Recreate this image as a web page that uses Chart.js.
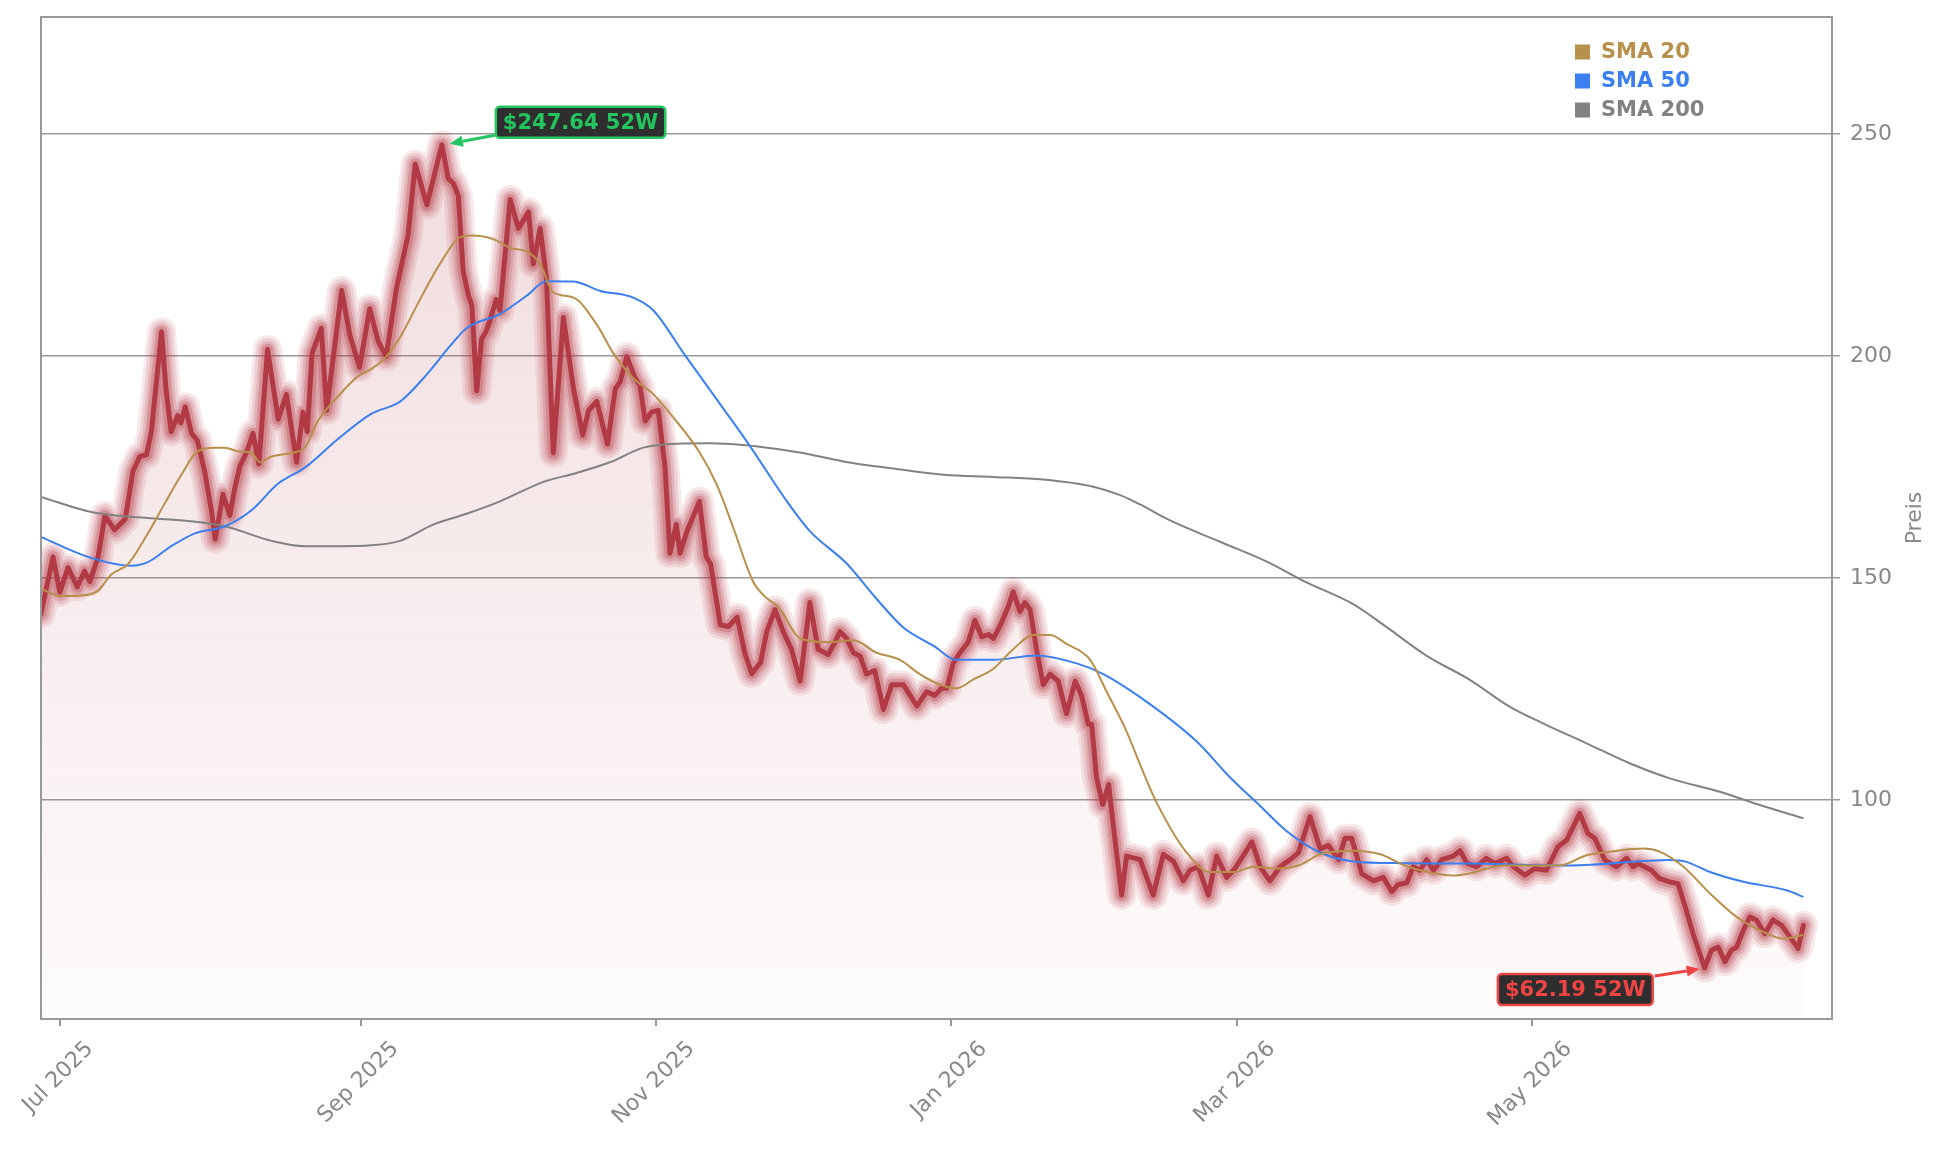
<!DOCTYPE html>
<html lang="de">
<head>
<meta charset="utf-8">
<title>Kurs 52W mit SMA</title>
<script src="https://cdn.jsdelivr.net/npm/chart.js@4.4.1/dist/chart.umd.min.js"></script>
<style>
    html, body { margin: 0; padding: 0; background: #fff; }
    #wrap { width: 1945px; height: 1153px; }
</style>
</head>
<body>
<div id="wrap"><canvas id="price-chart"></canvas></div>
<script>
// x values are days counted from 1 Jul 2025
const priceDays = [
    -4, -1.5, -0.1, 1.6, 3.5, 5.0, 6.1, 7.8, 9.2, 11.2, 13.4, 15.0, 16.4, 17.8, 18.8, 20.9, 21.9, 22.9, 24.2, 24.9,
    25.8, 27.1, 28.3, 29.8, 31.2, 32.0, 33.6, 35.0, 36.0, 37.1, 38.4, 39.8, 41.0, 42.8, 45.0, 46.7, 48.8, 50.1, 51.0, 52.0,
    53.9, 55.0, 58.1, 59.8, 61.8, 63.9, 65.6, 67.3, 69.4, 71.8, 73.3, 75.7, 78.8, 80.1, 81.2, 82.2, 83.2, 84.3, 85.0, 86.0,
    87.0, 87.9, 88.7, 90.0, 90.8, 92.9, 94.6, 96.7, 97.7, 99.1, 100.4, 101.8, 103.9, 106.0, 107.9, 109.1, 110.8, 113.0, 114.6, 115.6,
    117.0, 118.7, 119.7, 120.8, 122.1, 123.5, 124.9, 125.9, 127.2, 128.0, 129.4, 132.0, 133.4, 134.3, 136.3, 138.0, 139.8, 141.4, 142.8, 144.6,
    145.9, 147.6, 149.3, 151.0, 152.8, 154.8, 156.5, 158.6, 160.0, 161.0, 162.4, 163.8, 165.2, 166.5, 168.2, 170.0, 171.7, 174.1, 176.9, 178.9,
    180.6, 182.0, 183.1, 184.4, 185.8, 187.5, 188.9, 190.3, 191.7, 192.7, 194.1, 195.8, 196.8, 198.2, 199.2, 200.3, 201.6, 203.0, 204.4, 206.1,
    207.8, 209.6, 210.9, 212.3, 213.0, 214.0, 215.3, 216.5, 217.5, 219.2, 220.2, 223.0, 225.7, 227.8, 229.9, 231.9, 233.3, 235.0, 237.1, 238.8,
    240.9, 242.6, 246.1, 247.8, 249.8, 251.9, 254.0, 255.7, 258.1, 260.2, 261.9, 264.0, 265.3, 266.7, 268.8, 271.2, 273.2, 275.0, 276.3, 278.1,
    279.4, 280.8, 282.2, 283.6, 285.3, 287.7, 289.1, 290.5, 292.5, 294.5, 296.3, 298.7, 300.1, 302.5, 304.5, 306.9, 309.3, 311.1, 313.8, 315.5,
    316.9, 319.0, 321.4, 323.5, 324.8, 325.9, 328.6, 330.3, 332.4, 334.1, 335.8, 337.2, 338.6, 339.6, 341.0, 342.4, 343.8, 345.1, 346.2, 347.6,
    348.9, 350.3, 352.0, 353.7, 355.5, 357.2, 358.9, 360.0
];
const priceValues = [
    142, 154.8, 146.8, 152.4, 148, 151.6, 149.2, 154.8, 164.1, 160.9, 163.3, 174.1, 177.4, 177.8, 183, 205.5, 191.8, 183, 186.6, 185,
    188.6, 182.6, 181, 174.1, 165.3, 158.8, 168.9, 164.1, 170.1, 175.3, 178.2, 182.6, 175.7, 201.5, 185.8, 191.4, 176.1, 187.4, 183, 200.7,
    206.3, 187.8, 214.8, 204.7, 197.5, 210.7, 203.5, 199.9, 215.2, 227.2, 243.3, 234.1, 247.64, 240.1, 238.9, 236.1, 219.2, 213.6, 211.5, 192.2,
    203.9, 205.5, 207.9, 212.8, 210.3, 235.3, 228.8, 232.5, 220.8, 228.8, 217.6, 178.2, 208.7, 192.6, 182.2, 187.8, 189.8, 180.2, 192.6, 194.2,
    199.9, 195.1, 193.4, 185.4, 187.4, 187.8, 174.9, 155.6, 162.1, 155.6, 160.5, 167.3, 154.8, 153.2, 139.5, 139.1, 141.2, 133, 128.5, 131,
    138, 142.9, 138, 134, 126.8, 144.5, 134, 132.8, 135.6, 138, 136.4, 133.2, 132.4, 128.4, 129.2, 120.4, 126, 126, 121.2, 124.4,
    123.6, 125.2, 125.2, 130.8, 133.2, 135.6, 140.5, 136.8, 137.3, 136.4, 139.3, 143.7, 146.9, 142.5, 144.5, 142.9, 134, 126, 128.4, 126.8,
    119.5, 126.8, 123.6, 117.1, 117.1, 105.1, 99, 103.5, 94, 78.6, 87.4, 86.6, 78.6, 87.8, 86.2, 81.8, 84.2, 85, 78.6, 87.4,
    82.6, 84.6, 90.6, 85, 81.8, 85, 86.6, 88.2, 96.3, 89, 89.8, 86.6, 91.4, 91.4, 83.4, 81.8, 82.6, 79.4, 81, 81.4,
    85, 84.2, 86.6, 84.2, 86.6, 87.4, 88.6, 85.8, 85, 86.9, 85.7, 86.9, 85, 83.1, 84.6, 84.2, 89.5, 91, 97, 92.5,
    91.4, 86.5, 85, 86.9, 85, 85.7, 84.2, 82.3, 81.6, 81.2, 75.2, 69.9, 65.4, 62.19, 66.2, 66.9, 63.6, 66.2, 66.9, 70.7,
    73.7, 73, 69.9, 73, 71.8, 69.2, 66.6, 71.8
];

const sma20Days = [
    -4, -0.1, 4.3, 7.8, 10.5, 14, 18.1, 21.6, 25, 28.4, 31.9, 34, 36.7, 39.5, 41.2, 43.6, 47.7, 50.5, 53.2, 57.4,
    61.5, 64.2, 67, 70.3, 74.3, 78.4, 82.6, 85, 89.4, 92.9, 96.3, 99.1, 101.8, 106, 110.8, 114.2, 118.3, 122.5, 126.6, 132.1,
    135.6, 139, 143.1, 145.9, 148.3, 152.8, 158.3, 163.8, 168.6, 173.4, 177.5, 181.7, 185.1, 188.6, 192.7, 196.8, 201, 204.4, 207.8, 212.7,
    216.1, 220.2, 223, 226.4, 232.6, 237.4, 242.3, 246.4, 251.2, 256, 260.2, 267.1, 272.6, 277.4, 280.8, 287.7, 291.1, 298, 309.7, 315.2,
    320, 326.9, 330.3, 335.2, 340.7, 346.2, 351, 355.8, 360
];
const sma20Values = [
    147.6, 146, 146.1, 147.2, 150.8, 153.2, 160.1, 166.9, 173.3, 178.6, 179.4, 179.4, 178.6, 178.2, 176.1, 177.4, 178.2, 179.4, 185.4, 191,
    195.5, 197.1, 199.5, 204.5, 212.8, 220.8, 226.8, 227.2, 226.4, 224.4, 223.6, 220.8, 214.4, 213.2, 207.1, 200.7, 195.1, 191.4, 186.2, 178.2,
    171, 161.3, 149.2, 145.5, 143.5, 136.4, 135.6, 136, 133.2, 131.6, 128.4, 126, 125.2, 127.2, 129.6, 134, 137.2, 137.2, 135.2, 131.6,
    124.4, 115.5, 108, 99.5, 88.2, 83.8, 83.8, 85, 84.6, 85.4, 87.8, 88.6, 87.8, 85.4, 84.2, 83, 83.5, 85.3, 85.3, 87.6,
    88.4, 89.1, 88.4, 85, 79, 73.7, 70.7, 68.8, 69.6
];

const sma50Days = [
    -4, 5.7, 14.7, 18.1, 22.9, 27.8, 34, 39.5, 45, 50.5, 57.4, 64.2, 70.2, 75.7, 80.5, 83.9, 90.8, 96.3, 100.4, 106,
    111.5, 118.3, 122.5, 128.7, 135.6, 142.4, 150, 154.8, 162.4, 168.6, 174.1, 180.3, 185.1, 192.7, 201.6, 209.9, 215.4, 223, 234.7, 241.6,
    247.8, 253.3, 260.2, 267.1, 277.4, 291.1, 311.8, 332.4, 335.8, 340.7, 347.6, 356.5, 360
];
const sma50Values = [
    159.3, 154.8, 152.8, 153.6, 157.2, 160.1, 161.7, 165.3, 171.3, 174.9, 181.4, 187, 189.8, 195.9, 202.3, 206.3, 209.5, 213.6, 216.9, 216.8,
    214.7, 213.2, 210.3, 200.7, 190.2, 179.8, 167.4, 160.6, 153.3, 145.3, 138.9, 134.8, 131.6, 131.6, 132.6, 130.8, 128.4, 123.2, 113.2, 105.1,
    98.7, 93, 88.2, 86.2, 85.8, 85.7, 85.3, 86.5, 86.1, 83.8, 81.6, 79.7, 78.2
];

const sma200Days = [
    -4, 6.4, 16.1, 26.4, 34, 43.6, 50.5, 57.4, 64.2, 70.2, 77.1, 83.9, 90.8, 99.8, 106.6, 113.5, 120.4, 127.3, 134.2, 141.1,
    148.6, 152.8, 161.7, 172, 182.4, 192.7, 203, 213.3, 218.9, 223, 229.2, 239.5, 249.8, 256.7, 267.1, 274, 282.2, 291.1, 299.4, 306.2,
    315.2, 324.1, 332.4, 342.7, 351, 360
];
const sma200Values = [
    168.3, 164.9, 163.7, 162.9, 161.7, 158.4, 157.2, 157.2, 157.4, 158.4, 162.1, 164.5, 167.3, 171.7, 173.7, 176.1, 179.4, 180.3, 180.4, 180,
    179, 178.3, 176.3, 174.7, 173.3, 172.8, 172.2, 170.6, 168.7, 166.6, 163, 158.2, 153.4, 149.4, 144.1, 138.9, 132.5, 127.1, 121, 117.3,
    112.8, 108.3, 104.9, 101.9, 98.9, 95.9
];

const monthTicks = [0, 62, 123, 184, 243, 304];
const monthLabels = ["Jul 2025", "Sep 2025", "Nov 2025", "Jan 2026", "Mar 2026", "May 2026"];
const priceTicks = [100, 150, 200, 250];
const seriesNames = ["SMA 20", "SMA 50", "SMA 200"];
const axisTitle = "Preis";
const xRange = [-3.99, 365.9];
const yRange = [50.7, 276.4];

const FONT = "'DejaVu Sans', Verdana, sans-serif";
const GRID = "#999999";
const TEXT = "#888888";
const PRICE_RGB = "178, 58, 68";
const seriesColors = ["#b8904c", "#3b7ff0", "#828282"];

const toPoints = (days, values) => days.map((d, i) => ({ x: d, y: values[i] }));
const pricePoints = toPoints(priceDays, priceValues);

// 52W high / low straight from the data
const highValue = Math.max(...priceValues);
const lowValue = Math.min(...priceValues);
const highDay = priceDays[priceValues.indexOf(highValue)];
const lowDay = priceDays[priceValues.indexOf(lowValue)];

function smaSet(label, days, values, color, order) {
    return {
        label, data: toPoints(days, values), borderColor: color, borderWidth: 2,
        pointRadius: 0, cubicInterpolationMode: "monotone", fill: false, order, clip: 0
    };
}

// soft halo around the price line: wide faint strokes under the core
const glowWidths = [29, 23, 17, 11.5];
const glowAlphas = [0.11, 0.14, 0.19, 0.28];
const glowSets = glowWidths.map((w, i) => ({
    label: "glow" + i, data: pricePoints, borderColor: `rgba(${PRICE_RGB}, ${glowAlphas[i]})`,
    borderWidth: w, pointRadius: 0, tension: 0, fill: false, order: 7 - i, clip: 0,
    borderJoinStyle: "round", borderCapStyle: "round"
}));

const fillSet = {
    label: "fill", data: pricePoints, borderWidth: 0, borderColor: "rgba(0,0,0,0)",
    pointRadius: 0, tension: 0, fill: "start", order: 9, clip: 0,
    backgroundColor: (c) => {
        const a = c.chart.chartArea;
        if (!a) return "rgba(0,0,0,0)";
        const g = c.chart.ctx.createLinearGradient(0, a.top, 0, a.bottom);
        g.addColorStop(0, `rgba(${PRICE_RGB}, 0.2)`);
        g.addColorStop(1, `rgba(${PRICE_RGB}, 0.02)`);
        return g;
    }
};

const coreSet = {
    label: "Kurs", data: pricePoints, borderColor: `rgb(${PRICE_RGB})`, borderWidth: 5,
    pointRadius: 0, tension: 0, fill: false, order: 3, clip: 0,
    borderJoinStyle: "round", borderCapStyle: "round"
};

function drawArrow(ctx, x1, y1, x2, y2, color) {
    const ang = Math.atan2(y2 - y1, x2 - x1);
    const head = 13, half = 5.5;
    const bx = x2 - head * Math.cos(ang), by = y2 - head * Math.sin(ang);
    ctx.strokeStyle = color;
    ctx.fillStyle = color;
    ctx.lineWidth = 3;
    ctx.beginPath(); ctx.moveTo(x1, y1); ctx.lineTo(bx, by); ctx.stroke();
    ctx.beginPath();
    ctx.moveTo(x2, y2);
    ctx.lineTo(bx + half * Math.sin(ang), by - half * Math.cos(ang));
    ctx.lineTo(bx - half * Math.sin(ang), by + half * Math.cos(ang));
    ctx.closePath(); ctx.fill();
}

function badgeWidth(ctx, text) {
    ctx.font = `bold 21px ${FONT}`;
    return ctx.measureText(text).width + 14;
}

function drawBadge(ctx, text, color, left, top) {
    const w = badgeWidth(ctx, text), h = 31;
    ctx.beginPath();
    ctx.roundRect(left, top, w, h, 4);
    ctx.fillStyle = "#2e2e2e";
    ctx.fill();
    ctx.lineWidth = 2.5;
    ctx.strokeStyle = color;
    ctx.stroke();
    ctx.fillStyle = color;
    ctx.textAlign = "left";
    ctx.textBaseline = "middle";
    ctx.fillText(text, left + 7, top + h / 2 + 1);
}

const overlay = {
    id: "overlay",
    afterDraw(chart) {
        const { ctx, chartArea: a, scales } = chart;
        const xs = scales.x, ys = scales.y;
        ctx.save();

        // frame round the plot
        ctx.strokeStyle = GRID;
        ctx.lineWidth = 2;
        ctx.strokeRect(a.left, a.top, a.right - a.left, a.bottom - a.top);

        // rotated month labels, centred under each tick
        ctx.font = `22px ${FONT}`;
        ctx.fillStyle = TEXT;
        ctx.textAlign = "center";
        ctx.textBaseline = "middle";
        monthTicks.forEach((d, i) => {
            const w = ctx.measureText(monthLabels[i]).width;
            const s = (w + 16) * Math.SQRT1_2;
            ctx.save();
            ctx.translate(xs.getPixelForValue(d) - 2, a.bottom + 21 + s / 2);
            ctx.rotate(-Math.PI / 4);
            ctx.fillText(monthLabels[i], 0, 0);
            ctx.restore();
        });

        // y axis title, reading upwards
        ctx.save();
        ctx.translate(a.right + 83, (a.top + a.bottom) / 2);
        ctx.rotate(-Math.PI / 2);
        ctx.fillText(axisTitle, 0, 0);
        ctx.restore();

        // legend in the top right corner
        ctx.font = `bold 21px ${FONT}`;
        ctx.textAlign = "left";
        seriesNames.forEach((name, i) => {
            const cy = a.top + 35 + i * 29;
            ctx.fillStyle = seriesColors[i];
            ctx.fillRect(a.right - 257, cy - 7.5, 15, 15);
            ctx.fillText(name, a.right - 231, cy + 1);
        });

        // 52W high
        const hx = xs.getPixelForValue(highDay), hy = ys.getPixelForValue(highValue);
        const green = "#22c55e";
        drawArrow(ctx, hx + 53, hy - 9.5, hx + 8, hy - 1, green);
        drawBadge(ctx, `$${highValue.toFixed(2)} 52W`, green, hx + 54, hy - 38);

        // 52W low
        const lx = xs.getPixelForValue(lowDay), ly = ys.getPixelForValue(lowValue);
        const red = "#ef4444";
        const lowText = `$${lowValue.toFixed(2)} 52W`;
        drawArrow(ctx, lx - 50, ly + 8, lx - 5, ly + 1, red);
        drawBadge(ctx, lowText, red, lx - 52 - badgeWidth(ctx, lowText), ly + 6);

        ctx.restore();
    }
};

new Chart(document.getElementById("price-chart"), {
    type: "line",
    data: {
        datasets: [
            smaSet(seriesNames[0], sma20Days, sma20Values, seriesColors[0], 0),
            smaSet(seriesNames[1], sma50Days, sma50Values, seriesColors[1], 1),
            smaSet(seriesNames[2], sma200Days, sma200Values, seriesColors[2], 2),
            coreSet,
            ...glowSets,
            fillSet
        ]
    },
    options: {
        responsive: true,
        maintainAspectRatio: false,
        animation: false,
        events: [],
        layout: { padding: { left: 41, top: 17, right: 0, bottom: 0 } },
        plugins: {
            legend: { display: false },
            tooltip: { enabled: false }
        },
        scales: {
            x: {
                type: "linear",
                min: xRange[0],
                max: xRange[1],
                afterBuildTicks: (s) => { s.ticks = monthTicks.map(v => ({ value: v })); },
                afterFit: (s) => {
                    s.height = 134;
                    s.paddingLeft = 0; s.paddingRight = 0;
                },
                grid: { display: true, drawOnChartArea: false, color: GRID, lineWidth: 2, tickLength: 7 },
                border: { display: true, color: GRID, width: 2 },
                ticks: { display: false }
            },
            y: {
                type: "linear",
                position: "right",
                min: yRange[0],
                max: yRange[1],
                afterBuildTicks: (s) => { s.ticks = priceTicks.map(v => ({ value: v })); },
                afterFit: (s) => {
                    s.width = 113;
                    s.paddingTop = 0; s.paddingBottom = 0;
                },
                grid: { color: GRID, lineWidth: 1.5, tickLength: 8 },
                border: { display: true, color: GRID, width: 2 },
                ticks: { color: TEXT, padding: 10, font: { family: FONT, size: 22 } }
            }
        }
    },
    plugins: [overlay]
});
</script>
</body>
</html>
